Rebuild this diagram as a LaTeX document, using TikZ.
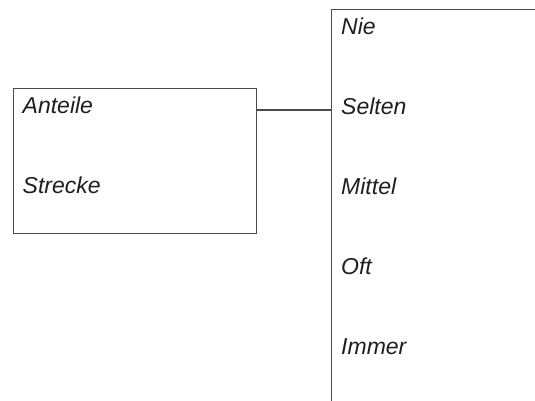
\documentclass[tikz,border=0pt]{standalone}
\usepackage{fontspec}
\setmainfont{Liberation Sans}
\usepackage{xcolor}
\usepackage{tikz}
\usetikzlibrary{positioning,calc}

\definecolor{frame}{HTML}{4A4A4A}
\definecolor{ink}{HTML}{1E1E1E}

\begin{document}
\begin{tikzpicture}[
        x=1pt, y=-1pt,
        font=\fontsize{23}{27}\selectfont\itshape,
        panel/.style={rectangle, draw=frame, line width=1.2pt, inner sep=0pt},
        lbl/.style={anchor=base west, inner sep=0pt, text=ink},
        link/.style={draw=frame, line width=1.2pt}
    ]
        \useasboundingbox (0,0) rectangle (535,400);

        %--- Boxes ---
        \node[panel, minimum width=243.5pt, minimum height=145.5pt, anchor=north west] (props) at (12.5,87.5) {};
        \node[panel, minimum width=240pt, minimum height=430pt, anchor=north west] (scale) at (331,9) {};

        %--- Left labels ---
        \node[lbl] (anteile) at ($(props.north west)+(10,26)$) {Anteile};
        \node[lbl] (strecke) at ($(anteile.base west)+(0,80)$) {Strecke};

        %--- Scale labels ---
        \foreach \lab [count=\i from 0] in {Nie,Selten,Mittel,Oft,Immer}
            \node[lbl] (lev-\i) at (341,34+80*\i) {\lab};

        %--- Connector ---
        \coordinate (pe) at ($(props.north east)+(0,22.5)$);
        \draw[link] (pe) -- (pe -| scale.west);
    \end{tikzpicture}
\end{document}
